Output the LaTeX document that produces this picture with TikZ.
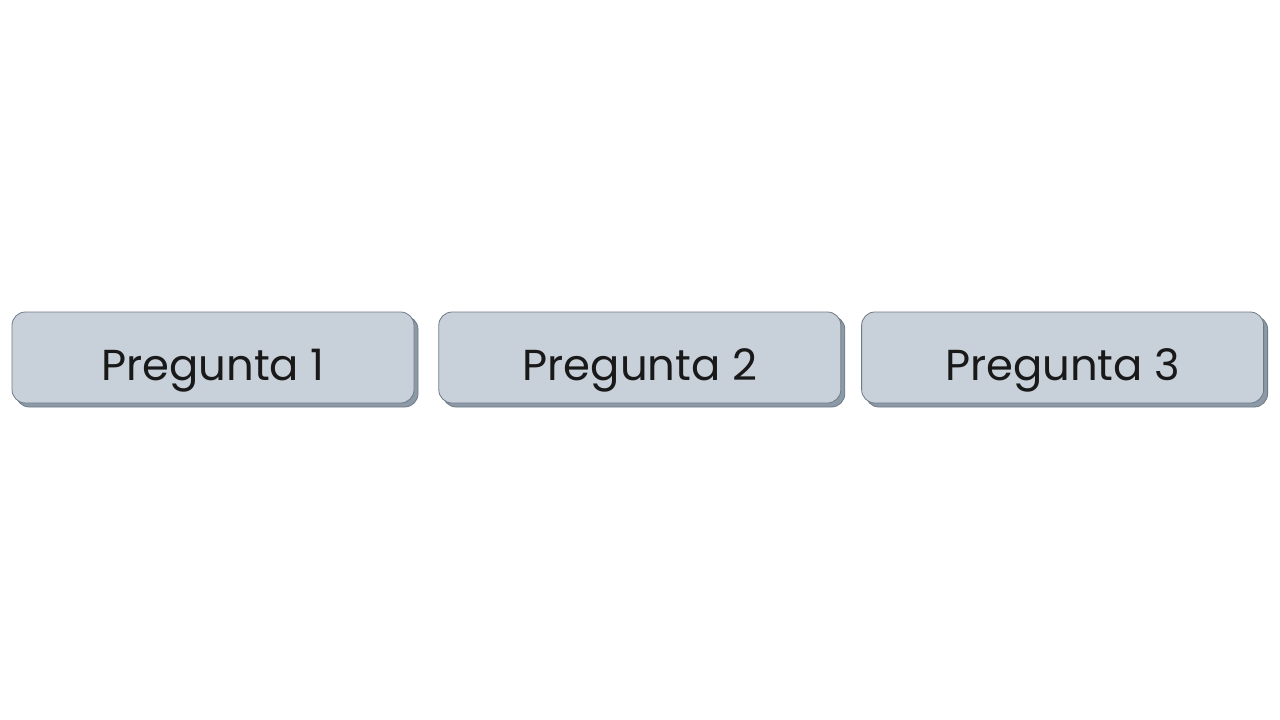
\documentclass[tikz,border=0pt]{standalone}
\usepackage{fontspec}
\setmainfont{Poppins}
\usepackage{tikz}
\usetikzlibrary{positioning, shadows}

\definecolor{qfill}{HTML}{C8D0DA}
\definecolor{qline}{HTML}{6E7A86}
\definecolor{qshadow}{HTML}{8C99A6}

\begin{document}
\begin{tikzpicture}[
    x=0.75pt, y=-0.75pt,
    node distance=18pt,
    qbox/.style={rectangle, rounded corners=10pt, draw=qline, line width=0.6pt, fill=qfill,
      minimum width=301.5pt, minimum height=68.25pt, inner sep=0pt,
      text height=34pt, text depth=0pt,
      font=\fontsize{32.5}{36}\selectfont, text=black!90,
      general shadow={shadow xshift=3pt, shadow yshift=-3pt, fill=qshadow, draw=qline, line width=0.6pt}}
  ]
    \useasboundingbox (0,0) rectangle (1280,720);
    \node[qbox] (q1) at (213,357.5) {Pregunta 1};
    \node[qbox, right=of q1] (q2) {Pregunta 2};
    \node[qbox, right=15pt of q2] (q3) {Pregunta 3};
  \end{tikzpicture}
\end{document}
